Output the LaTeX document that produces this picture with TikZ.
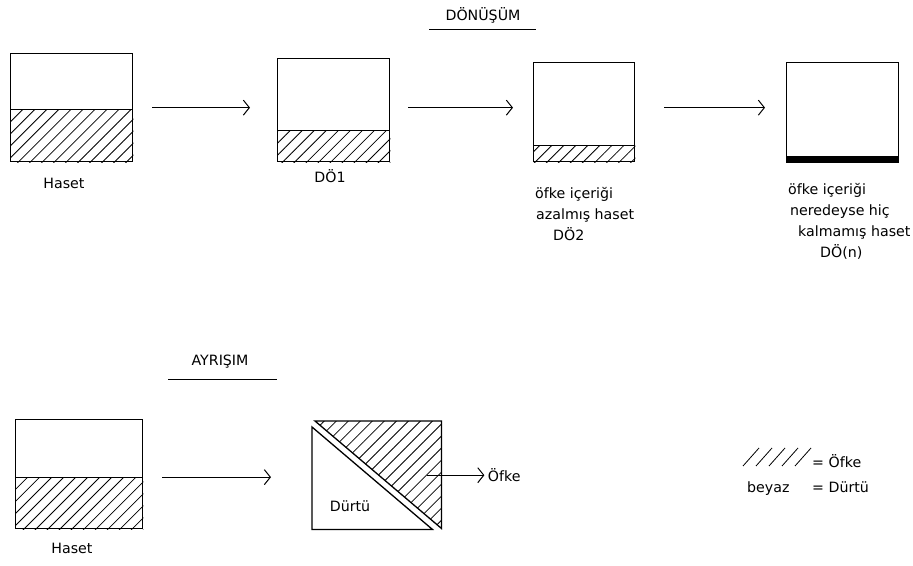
\documentclass[tikz,border=0pt]{standalone}
\usepackage{fontspec}
\setmainfont{DejaVu Sans}
\usetikzlibrary{arrows.meta, positioning, backgrounds, patterns.meta, calc}

\begin{document}
\begin{tikzpicture}[
    x=1pt, y=-1pt,
    every node/.style={font=\fontsize{14.2}{21}\selectfont},
    box/.style={rectangle, draw=black, line width=1.3pt, anchor=north west, inner sep=0pt},
    divider/.style={line width=1.3pt},
    hatch/.style={pattern={Lines[angle=45, distance=8.5pt, line width=0.8pt]}},
    arrow/.style={-{Straight Barb[length=6pt, width=15pt]}, line width=1pt},
    uline/.style={line width=1pt}
]
\useasboundingbox (0,0) rectangle (913,565);

% --- DÖNÜŞÜM (top row) ---
\node[anchor=base] (donusum) at (483,20) {DÖNÜŞÜM};
\draw[uline] ([xshift=-54pt, yshift=-9pt]donusum.base) -- ([xshift=53pt, yshift=-9pt]donusum.base);

\node[box, minimum width=122pt, minimum height=108pt] (haset) at (10,53) {};
\node[box, minimum width=112pt, minimum height=103pt] (do1)   at (277,58) {};
\node[box, minimum width=101pt, minimum height=99pt]  (do2)   at (533,62) {};
\node[box, minimum width=112pt, minimum height=100pt] (don)   at (786,62) {};

\node[anchor=base] (lbhaset) at (64,188) {Haset};
\node[anchor=base] (lbdo1)   at (330,182) {DÖ1};
\node[anchor=north west, align=left, inner sep=0pt] (lbdo2) at (535,187)
    {öfke içeriği\\\hspace*{1pt}azalmış haset\\\hspace*{18pt}DÖ2};
\node[anchor=north west, align=left, inner sep=0pt] (lbdon) at (788,183)
    {öfke içeriği\\\hspace*{2pt}neredeyse hiç\\\hspace*{10pt}kalmamış haset\\\hspace*{32pt}DÖ(n)};

% --- AYRIŞIM (bottom row) ---
\node[anchor=base] (ayrisim) at (220,365) {AYRIŞIM};
\draw[uline] ([xshift=-52pt, yshift=-14pt]ayrisim.base) -- ([xshift=57pt, yshift=-14pt]ayrisim.base);

\node[box, minimum width=127pt, minimum height=109pt] (haset2) at (15,419) {};
\node[anchor=base] (lbhaset2) at (72,553) {Haset};

\node[minimum width=129pt, minimum height=108pt, anchor=north west, inner sep=0pt] (split) at (312,421) {};
\draw[hatch, line width=1.3pt] ([xshift=3pt]split.north west) -- (split.north east)
    -- ([yshift=1pt]split.south east) -- cycle;
\draw[line width=1.3pt] ([yshift=-6pt]split.north west) -- (split.south west)
    -- ([xshift=-9pt]split.south east) -- cycle;
\node[anchor=base] (durtu) at (350,511) {Dürtü};
\node[right=43pt of split.east, anchor=west] (ofke) {Öfke};
\coordinate (ofkesrc) at ([xshift=-14pt]split.east);

% --- hatched levels ---
\begin{scope}[on background layer]
\fill[hatch] (haset.south west)  rectangle ([yshift=53pt]haset.south east);
\fill[hatch] (do1.south west)    rectangle ([yshift=32pt]do1.south east);
\fill[hatch] (do2.south west)    rectangle ([yshift=17pt]do2.south east);
\fill[hatch] (haset2.south west) rectangle ([yshift=52pt]haset2.south east);
\end{scope}
\draw[divider] ([yshift=53pt]haset.south west)  -- ([yshift=53pt]haset.south east);
\draw[divider] ([yshift=32pt]do1.south west)    -- ([yshift=32pt]do1.south east);
\draw[divider] ([yshift=17pt]do2.south west)    -- ([yshift=17pt]do2.south east);
\draw[divider] ([yshift=52pt]haset2.south west) -- ([yshift=52pt]haset2.south east);
\fill (don.south west) rectangle ([yshift=7pt]don.south east);

% --- arrows ---
\draw[arrow, shorten <=19pt, shorten >=27pt] (haset.east) -- (haset.east -| do1.west);
\draw[arrow, shorten <=18pt, shorten >=20pt] (haset.east -| do1.east) -- (haset.east -| do2.west);
\draw[arrow, shorten <=29pt, shorten >=21pt] (haset.east -| do2.east) -- (haset.east -| don.west);
\draw[arrow, shorten <=19pt, shorten >=41pt] ([yshift=-3pt]haset2.east) -- ([yshift=-3pt]haset2.east -| split.west);
\draw[arrow] (ofkesrc) -- (ofke.west);

% --- legend ---
\foreach \i in {0,...,4}
    \draw[line width=0.8pt] (743+13*\i,466) -- ++(16,-18);
\node[anchor=base west, inner sep=0pt] (legofke)  at (812,467) {= Öfke};
\node[anchor=base west, inner sep=0pt] (legbeyaz) at (747,492) {beyaz};
\node[anchor=base west, inner sep=0pt] (legdurtu) at (812,492) {= Dürtü};
\end{tikzpicture}
\end{document}
